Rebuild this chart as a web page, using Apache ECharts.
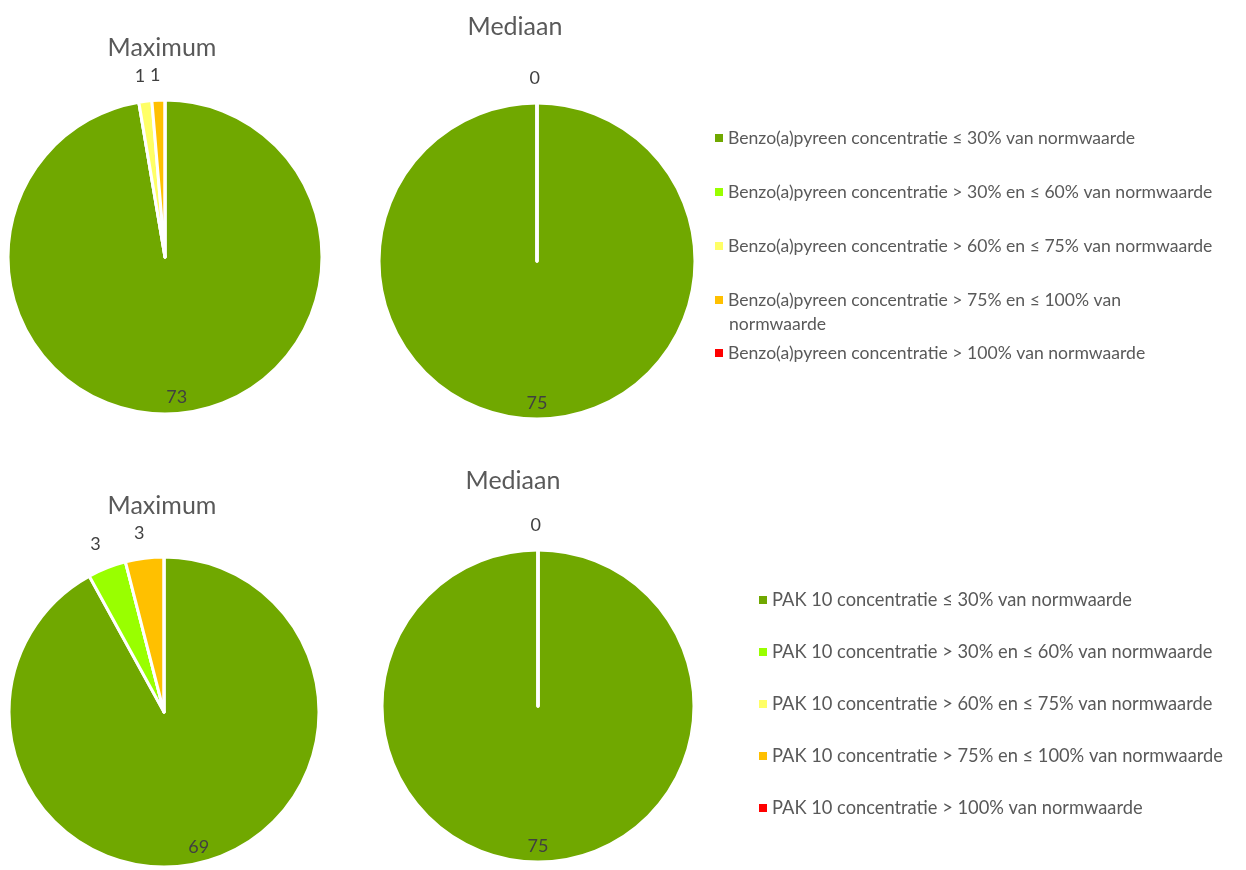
<!DOCTYPE html>
<html><head><meta charset="utf-8">
<script src="https://cdn.jsdelivr.net/npm/echarts@6/dist/echarts.min.js"></script>
<style>html,body{margin:0;padding:0;background:#fff}#c{width:1246px;height:870px}</style>
</head><body><div id="c"></div>
<script>
// ---- data ----
const benzoNames = [
  'Benzo(a)pyreen concentratie ≤ 30% van normwaarde',
  'Benzo(a)pyreen concentratie > 30% en ≤ 60% van normwaarde',
  'Benzo(a)pyreen concentratie > 60% en ≤ 75% van normwaarde',
  'Benzo(a)pyreen concentratie > 75% en ≤ 100% van normwaarde',
  'Benzo(a)pyreen concentratie > 100% van normwaarde'
];
const pakNames = [
  'PAK 10 concentratie ≤ 30% van normwaarde',
  'PAK 10 concentratie > 30% en ≤ 60% van normwaarde',
  'PAK 10 concentratie > 60% en ≤ 75% van normwaarde',
  'PAK 10 concentratie > 75% en ≤ 100% van normwaarde',
  'PAK 10 concentratie > 100% van normwaarde'
];
const benzoMaximum = [73, 0, 1, 1, 0];
const benzoMediaan = [75, 0, 0, 0, 0];
const pakMaximum = [69, 3, 0, 3, 0];
const pakMediaan = [75, 0, 0, 0, 0];
const chartTitles = ['Maximum', 'Mediaan', 'Maximum', 'Mediaan'];
const showZeroLabel = [false, true, false, true];

// ---- style ----
const colors = ['#70A800', '#99FF00', '#FFFF66', '#FFC000', '#FF0000'];
const FONT = 'Lato';
const labelColor = '#404040';
const textColor = '#595959';

const charts = [
  { names: benzoNames, values: benzoMaximum, center: [165, 257], r: 157, title: [162, 35] },
  { names: benzoNames, values: benzoMediaan, center: [537, 261], r: 158, title: [515, 14] },
  { names: pakNames, values: pakMaximum, center: [164, 712], r: 155, title: [162, 493] },
  { names: pakNames, values: pakMediaan, center: [538, 706], r: 156, title: [513, 468] }
];

const series = [];
const titles = [];
charts.forEach((c, k) => {
  const total = c.values.reduce((a, b) => a + b, 0);
  const firstZero = c.values.indexOf(0);
  const labelBase = { color: labelColor, fontSize: 18, fontFamily: FONT, formatter: '{c}' };
  series.push({
    type: 'pie', center: c.center, radius: c.r, startAngle: 90, clockwise: true,
    avoidLabelOverlap: false,
    emphasis: { disabled: true },
    itemStyle: { borderColor: '#fff', borderWidth: 3 },
    label: Object.assign({ show: true, position: 'outside', distanceToLabelLine: 0 }, labelBase),
    labelLine: { show: false, length: 25, length2: -3 },
    data: c.values.map((v, i) => ({
      name: c.names[i], value: v,
      itemStyle: { color: colors[i] },
      label: { show: (v > 0 && v / total <= 0.5) || (v === 0 && showZeroLabel[k] && i === firstZero) }
    }))
  });
  series.push({
    type: 'pie', center: c.center, radius: [c.r * 0.76, c.r], startAngle: 90, clockwise: true,
    silent: true, avoidLabelOverlap: false,
    emphasis: { disabled: true },
    itemStyle: { color: 'transparent', borderWidth: 0 },
    label: Object.assign({ show: true, position: 'inside' }, labelBase),
    labelLine: { show: false },
    data: c.values.map((v, i) => ({
      name: c.names[i], value: v,
      itemStyle: { color: 'transparent' },
      label: { show: v / total > 0.5 }
    }))
  });
  titles.push({
    text: chartTitles[k], left: c.title[0], top: c.title[1], textAlign: 'center', padding: 0,
    textStyle: { fontFamily: FONT, fontSize: 25, fontWeight: 'normal', color: textColor }
  });
});

// wrapped second line of the 4th Benzo legend entry
const wrapSplit = ' normwaarde';
titles.push({
  text: benzoNames[3].slice(benzoNames[3].lastIndexOf(wrapSplit) + 1),
  left: 729, top: 314, padding: 0,
  textStyle: { fontFamily: FONT, fontSize: 17.6, fontWeight: 'normal', color: textColor, lineHeight: 20 }
});

const legendBase = {
  orient: 'vertical', icon: 'rect', itemWidth: 8, itemHeight: 8, itemTextGap: 6, padding: 0,
  selectedMode: false,
  itemStyle: { borderWidth: 0 }
};
const option = {
  backgroundColor: '#fff',
  animation: false,
  title: titles,
  legend: [
    Object.assign({}, legendBase, {
      data: benzoNames.slice(0, 4), left: 715, top: 128, itemGap: 34,
      textStyle: { fontFamily: FONT, fontSize: 17.6, color: textColor, lineHeight: 20 },
      formatter: n => n === benzoNames[3] ? n.slice(0, n.lastIndexOf(wrapSplit)) : n
    }),
    Object.assign({}, legendBase, {
      data: [benzoNames[4]], left: 715, top: 343,
      textStyle: { fontFamily: FONT, fontSize: 17.6, color: textColor, lineHeight: 20 }
    }),
    Object.assign({}, legendBase, {
      data: pakNames, left: 759, top: 590, itemGap: 32,
      textStyle: { fontFamily: FONT, fontSize: 18.3, color: textColor, lineHeight: 20 }
    })
  ],
  series: series
};
const chart = echarts.init(document.getElementById('c'), null, { renderer: 'canvas' });
chart.setOption(option);
</script></body></html>
